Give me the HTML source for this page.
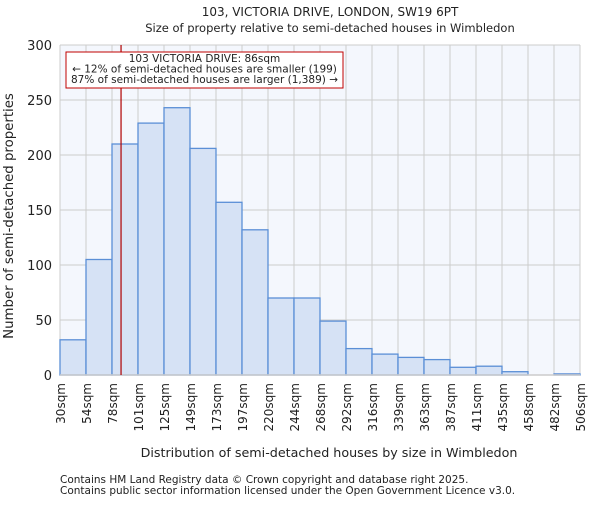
<!DOCTYPE html>
<html><head><meta charset="utf-8"><style>body{margin:0;background:#fff}svg text{font-family:"DejaVu Sans","Liberation Sans",sans-serif;fill:#222}</style></head>
<body>
<svg id="c" width="600" height="500" xmlns="http://www.w3.org/2000/svg">
<text x="330" y="16" font-size="12" text-anchor="middle">103, VICTORIA DRIVE, LONDON, SW19 6PT</text>
<text x="330" y="32" font-size="11.5" text-anchor="middle">Size of property relative to semi-detached houses in Wimbledon</text>
<rect x="60" y="45" width="520" height="330" fill="#f4f7fd"/>
<g id="grid"></g><g id="bars"></g><g id="axes"></g>
<text x="329" y="457" font-size="12.7" text-anchor="middle">Distribution of semi-detached houses by size in Wimbledon</text>
<text transform="translate(13,216) rotate(-90)" font-size="13.3" text-anchor="middle">Number of semi-detached properties</text>
<text x="60" y="483" font-size="10.5">Contains HM Land Registry data © Crown copyright and database right 2025.</text>
<text x="60" y="494" font-size="10.5">Contains public sector information licensed under the Open Government Licence v3.0.</text>
</svg>
<script>
const categories=["30sqm","54sqm","78sqm","101sqm","125sqm","149sqm","173sqm","197sqm","220sqm","244sqm","268sqm","292sqm","316sqm","339sqm","363sqm","387sqm","411sqm","435sqm","458sqm","482sqm","506sqm"];
const binStarts=[30,54,78,101,125,149,173,197,220,244,268,292,316,339,363,387,411,435,458,482,506];
const counts=[32,105,210,229,243,206,157,132,70,70,49,24,19,16,14,7,8,3,0,1];
const yTicks=[0,50,100,150,200,250,300];
const propertySize=86;
const NS="http://www.w3.org/2000/svg";
const X0=60,X1=580,Y0=375,Y1=45,nb=counts.length,bw=(X1-X0)/nb;
const yS=v=>Y0-(v/300)*(Y0-Y1);
const xI=i=>X0+i*bw;
function xV(v){for(let i=0;i<binStarts.length-1;i++){if(v>=binStarts[i]&&v<=binStarts[i+1])return xI(i)+bw*(v-binStarts[i])/(binStarts[i+1]-binStarts[i]);}return X1;}
function mk(t,a,p){const e=document.createElementNS(NS,t);for(const k in a)e.setAttribute(k,a[k]);p.appendChild(e);return e;}
const g=document.getElementById('grid'),b=document.getElementById('bars'),ax=document.getElementById('axes');
yTicks.forEach(t=>{const l=mk('line',{x1:X0,x2:X1,y1:yS(t),y2:yS(t),stroke:'#cccccc'},g);

const tx=mk('text',{x:X0-8,y:yS(t)+5,'font-size':13,'text-anchor':'end'},ax);tx.textContent=t;
});
categories.forEach((c,i)=>{const x=xI(i);const l=mk('line',{x1:x,x2:x,y1:Y1,y2:Y0,stroke:'#cccccc'},g);

const tx=mk('text',{transform:`translate(${x+5},${Y0+8}) rotate(-90)`,'font-size':12,'text-anchor':'end'},ax);tx.textContent=c;
});
counts.forEach((v,i)=>{if(v<=0)return;const r=mk('rect',{x:xI(i),y:yS(v),width:bw,height:Y0-yS(v),fill:'#d6e2f5',stroke:'#5b8fd6','stroke-width':1.3},b);
});
const ab=mk('line',{x1:X0,x2:X1,y1:Y0,y2:Y0,stroke:'#cccccc','stroke-width':1.5},ax);

const px=xV(propertySize);
const ml=mk('line',{x1:px,x2:px,y1:Y1,y2:Y0,stroke:'#b00000','stroke-width':1.2},ax);

const box=mk('rect',{x:66,y:52,width:277,height:36,fill:'#fff',stroke:'#c00000','stroke-width':1},ax);

["103 VICTORIA DRIVE: 86sqm","← 12% of semi-detached houses are smaller (199)","87% of semi-detached houses are larger (1,389) →"].forEach((s,i)=>{
const t=mk('text',{x:204.5,y:62+i*10.5,'font-size':10.5,'text-anchor':'middle'},ax);t.textContent=s;
});
</script>
</body></html>
